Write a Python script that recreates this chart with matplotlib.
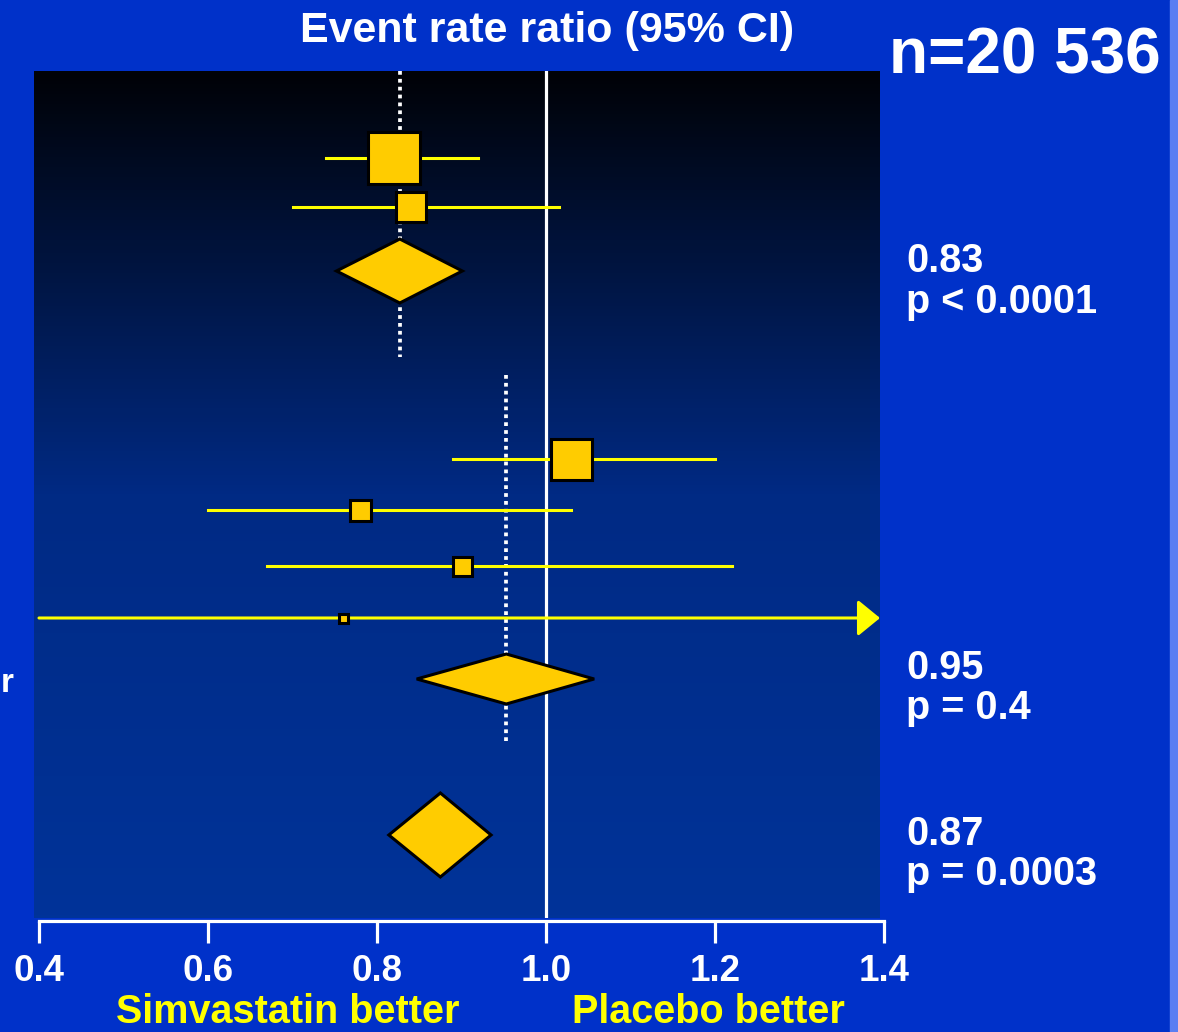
import numpy as np
import matplotlib.pyplot as plt
from matplotlib.patches import Polygon, Rectangle
from matplotlib.colors import LinearSegmentedColormap

plt.rcParams['font.family'] = ['Liberation Sans', 'DejaVu Sans']
plt.rcParams['font.weight'] = 'bold'

# single trials: event rate ratio with 95% CI, box side ~ weight
ratio = [0.82, 0.84, 1.03, 0.78, 0.90, 0.76]
lower = [0.74, 0.70, 0.89, 0.60, 0.67, 0.40]
upper = [0.92, 1.015, 1.20, 1.03, 1.22, 1.60]
weight = [55, 33, 44, 24, 22, 12]

# pooled estimates (diamonds)
pool_est = [0.827, 0.953, 0.875]
pool_lo = [0.752, 0.847, 0.814]
pool_hi = [0.901, 1.057, 0.935]
pool_val = ['0.83', '0.95', '0.87']
pool_p = ['p < 0.0001', 'p = 0.4', 'p = 0.0003']

ticks = [0.4, 0.6, 0.8, 1.0, 1.2, 1.4]

# layout (y measured downward from panel top)
row_y = [87, 136, 388, 439, 495, 547]
pool_y = [200, 608, 764]
pool_h = [32, 25, 42]
dot_span = [(0, 286), (304, 674)]
txt_base = [(272, 313), (679, 719), (845, 885)]

W, H = 1178, 1032
BG = '#0031C9'
GOLD = '#FFCC00'
YEL = '#FFFF00'

fig = plt.figure(figsize=(W / 100, H / 100), dpi=100, facecolor=BG)
# axes a bit wider than the dark panel so the 1.4 tick fits
ax = fig.add_axes([34 / W, 1 - 918 / H, (890 - 34) / W, (918 - 71) / H])
ax.patch.set_alpha(0)
xmin, xmax = 1 - 512 / 845, 1 + 344 / 845
xpanel = 1 + 334 / 845
ax.set_xlim(xmin, xmax)
ax.set_ylim(847, 0)

grad = LinearSegmentedColormap.from_list('panel', ['#000207', '#012a84', '#003399'])
ax.imshow(np.linspace(0, 1, 256).reshape(-1, 1), extent=(xmin, xpanel, 847, 0),
          aspect='auto', cmap=grad, zorder=0)
ax.set_xlim(xmin, xmax)

# reference line at 1.0
ax.plot([1.0, 1.0], [0, 847], color='white', lw=2.3, zorder=1)

# dotted lines at pooled estimates
for v, (y0, y1) in zip(pool_est[:2], dot_span):
    ax.plot([v, v], [y0, y1], color='white', lw=2.7, linestyle=(0, (1, 1.1)),
            dash_capstyle='butt', zorder=1)

# trials
for r, lo, hi, w, y in zip(ratio, lower, upper, weight, row_y):
    if hi > xpanel:
        ax.annotate('', xy=(xpanel, y), xytext=(lo, y),
                    arrowprops=dict(arrowstyle='-|>,head_length=0.55,head_width=0.45',
                                    color=YEL, lw=2.2, mutation_scale=25,
                                    shrinkA=0, shrinkB=0), zorder=2)
    else:
        ax.plot([lo, hi], [y, y], color=YEL, lw=2.2, zorder=2)
    ax.plot(r, y, marker='s', ms=(w - 3) * 0.72, mfc=GOLD, mec='black', mew=2.2, zorder=3)

# diamonds
for e, lo, hi, y, h in zip(pool_est, pool_lo, pool_hi, pool_y, pool_h):
    ax.add_patch(Polygon([[lo, y], [e, y - h], [hi, y], [e, y + h]], closed=True,
                         fc=GOLD, ec='black', lw=2.2, zorder=3))

for s in ['top', 'left', 'right']:
    ax.spines[s].set_visible(False)
ax.spines['bottom'].set_bounds(0.4, 1.4)
ax.spines['bottom'].set_position(('outward', 2))
ax.spines['bottom'].set_color('white')
ax.spines['bottom'].set_linewidth(2.3)
ax.set_yticks([])
ax.set_xticks(ticks)
ax.set_xticklabels(['%.1f' % t for t in ticks])
ax.tick_params(axis='x', direction='out', length=16, width=2.3, colors='white',
               labelsize=26.5, pad=8)


def ftxt(x, y, s, **kw):
    fig.text(x / W, 1 - y / H, s, color=kw.pop('color', 'white'), fontweight='bold', **kw)


ftxt(547, 31, 'Event rate ratio (95% CI)', fontsize=31, ha='center', va='center')
ftxt(889, 57, 'n=20 536', fontsize=46, ha='left', va='center')
for v, p, (b1, b2) in zip(pool_val, pool_p, txt_base):
    ftxt(906, b1, v, fontsize=28.5, ha='left', va='baseline')
    ftxt(906, b2, p, fontsize=28.5, ha='left', va='baseline')
ftxt(288, 1023, 'Simvastatin better', fontsize=28.5, ha='center', va='baseline', color=YEL)
ftxt(708, 1023, 'Placebo better', fontsize=28.5, ha='center', va='baseline', color=YEL)
ftxt(0.5, 692, 'r', fontsize=24, ha='left', va='baseline')

fig.patches.append(Rectangle((1170 / W, 0), 8 / W, 1, transform=fig.transFigure,
                             color='#5B7EF2', zorder=0))

fig.savefig('out.png', dpi=100, facecolor=BG)
